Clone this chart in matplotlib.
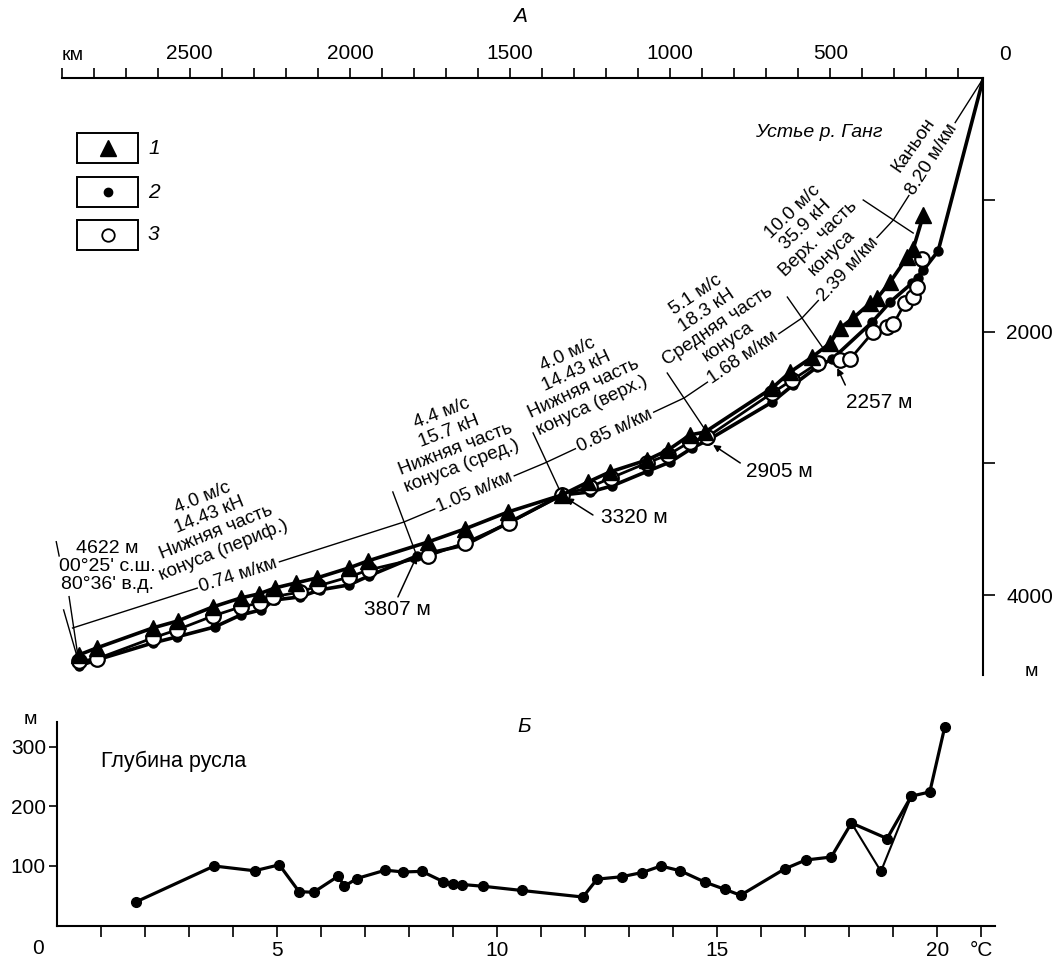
import numpy as np
import matplotlib
matplotlib.use('Agg')
import matplotlib.pyplot as plt
from matplotlib.lines import Line2D
from matplotlib.patches import Rectangle

plt.rcParams['font.family'] = ['Liberation Sans', 'DejaVu Sans']

W, H = 1061, 960

# ---- A: long profile, distance from mouth (km) and depth (m) ----
tri_km = [2847, 2791, 2616, 2538, 2428, 2341, 2284, 2234, 2169, 2103,
          2003, 1944, 1756, 1641, 1506, 1338, 1256, 1188, 1072, 1006,
          938, 891, 681, 625, 556, 500, 469, 428, 375, 353,
          313, 259, 241, 209]
tri_m = [4455, 4402, 4250, 4197, 4090, 4022, 3991, 3946, 3908, 3870,
         3794, 3741, 3597, 3498, 3369, 3240, 3141, 3065, 2974, 2898,
         2784, 2762, 2427, 2306, 2192, 2086, 1972, 1896, 1782, 1744,
         1623, 1433, 1372, 1114]

dot_km = [2847, 2791, 2616, 2541, 2422, 2341, 2278, 2234, 2156, 2094,
          2003, 1941, 1791, 1641, 1500, 1338, 1250, 1181, 1069, 1000,
          931, 881, 681, 616, 541, 494, 369, 313, 244, 225,
          209, 163, 22]
dot_m = [4538, 4493, 4364, 4318, 4242, 4151, 4113, 4037, 4014, 3961,
         3923, 3855, 3703, 3620, 3445, 3240, 3217, 3171, 3058, 2990,
         2883, 2822, 2534, 2405, 2268, 2208, 1927, 1775, 1630, 1593,
         1532, 1387, 76]

ring_km = [2847, 2791, 2616, 2541, 2428, 2341, 2281, 2241, 2156, 2100,
           2003, 1941, 1756, 1641, 1503, 1338, 1250, 1184, 1072, 1006,
           938, 884, 681, 619, 538, 469, 438, 366, 322, 303,
           266, 241, 228, 213]
ring_m = [4501, 4485, 4326, 4265, 4159, 4090, 4060, 4014, 3977, 3931,
          3863, 3809, 3703, 3604, 3453, 3240, 3179, 3110, 2996, 2935,
          2837, 2799, 2465, 2367, 2238, 2215, 2208, 2002, 1964, 1942,
          1782, 1737, 1661, 1448]

# slope line drawn above the profile
grad_km = [2866, 1831, 1391, 956, 588, 303, 22]
grad_m = [4250, 3445, 2997, 2503, 1896, 1152, 76]
grad_labels = ['0.74 м/км', '1.05 м/км', '0.85 м/км', '1.68 м/км', '2.39 м/км', '8.20 м/км']
grad_pos = [0.5, 0.5, 0.5, 0.5, 0.5, 0.43]

seg_labels = ['4.0 м/с\n14.43 кН\nНижняя часть\nконуса (периф.)',
              '4.4 м/с\n15.7 кН\nНижняя часть\nконуса (сред.)',
              '4.0 м/с\n14.43 кН\nНижняя часть\nконуса (верх.)',
              '5.1 м/с\n18.3 кН\nСредняя часть\nконуса',
              '10.0 м/с\n35.9 кН\nВерх. часть\nконуса',
              'Каньон']
seg_km = [2428, 1681, 1281, 869, 556, 241]
seg_m = [3460, 2822, 2367, 1896, 1243, 582]
seg_rot = [22, 21, 25, 34, 44, 55]

# segment boundaries (km1, m1, km2, m2)
bounds = [(2917, 3595, 2908, 3703), (2894, 4113, 2849, 4493),
          (1866, 3217, 1791, 3703), (1428, 2769, 1338, 3240),
          (1009, 2314, 884, 2769), (634, 1737, 525, 2116),
          (397, 1000, 241, 1251)]

depth_labels = ['3807 м', '3320 м', '2905 м', '2257 м']
depth_txt = [(1850, 4113), (1112, 3410), (660, 3065), (347, 2534)]
depth_tail = [(1850, 4014), (1241, 3392), (781, 2997), (453, 2405)]
depth_head = [(1791, 3703), (1325, 3263), (866, 2860), (478, 2276)]

km_ticks = [500, 1000, 1500, 2000, 2500]
m_ticks = [1000, 2000, 3000, 4000]

# ---- Б: channel depth ----
b_x = [1.8, 3.57, 4.49, 5.05, 5.5, 5.83, 6.39, 6.53, 6.81, 7.46,
       7.87, 8.29, 8.77, 8.99, 9.21, 9.69, 10.56, 11.95, 12.27, 12.83,
       13.29, 13.72, 14.16, 14.72, 15.17, 15.53, 16.53, 17.01, 17.59, 18.05,
       18.86, 19.41, 19.83, 20.17]
b_y = [40, 100, 92, 102, 57, 56, 83, 66, 79, 93,
       90, 91, 74, 70, 69, 66, 59, 48, 78, 82,
       89, 100, 92, 73, 61, 51, 95, 110, 115, 172,
       146, 217, 224, 333]
b2_x = [18.05, 18.72, 19.41]
b2_y = [172, 91, 217]


def fx(px):
    return px / W


def fy(py):
    return 1 - py / H


fig = plt.figure(figsize=(W / 100, H / 100), dpi=100)

ax = fig.add_axes([fx(61.7), fy(675), (983.3 - 61.7) / W, (675 - 78.3) / H])
ax.set_xlim(2900, 22)
ax.set_ylim(4607, 76)
ax.spines['left'].set_visible(False)
ax.spines['bottom'].set_visible(False)
ax.spines['top'].set_linewidth(1.5)
ax.spines['right'].set_linewidth(1.5)
ax.xaxis.set_ticks_position('top')
ax.yaxis.set_ticks_position('right')
ax.set_xticks(km_ticks, [str(k) for k in km_ticks])
ax.set_xticks(np.arange(100, 2901, 100), minor=True)
ax.tick_params(axis='x', which='both', direction='out', length=7, width=1.2,
               labelsize=15, pad=4)
ax.set_yticks(m_ticks, ['' if m % 2000 else str(m) for m in m_ticks])
ax.tick_params(axis='y', direction='out', length=8.5, width=1.2, labelsize=15, pad=8)

fig.text(fx(73), fy(55), 'км', ha='center', va='center', fontsize=14)
fig.text(fx(1005), fy(55), '0', ha='center', va='center', fontsize=15)
fig.text(fx(1031), fy(671), 'м', ha='center', va='center', fontsize=14)
fig.text(fx(520), fy(16), 'А', ha='center', va='center', fontsize=15, style='italic')

# profiles
ax.plot(dot_km, dot_m, '-', color='k', lw=2.6, marker='o', ms=6.5,
        markevery=list(range(len(dot_km) - 1)), zorder=3)
ax.plot(ring_km, ring_m, '-', color='k', lw=2.0, marker='o', ms=10.5,
        mfc='white', mec='k', mew=1.6, zorder=4)
ax.plot(tri_km, tri_m, '-', color='k', lw=2.6, marker='^', ms=11, zorder=5)

# slope line with labels
ax.plot(grad_km, grad_m, '-', color='k', lw=1.0, zorder=2)
for i, lab in enumerate(grad_labels):
    p0 = ax.transData.transform((grad_km[i], grad_m[i]))
    p1 = ax.transData.transform((grad_km[i + 1], grad_m[i + 1]))
    ang = np.degrees(np.arctan2(p1[1] - p0[1], p1[0] - p0[0]))
    t = grad_pos[i]
    xk = grad_km[i] + t * (grad_km[i + 1] - grad_km[i])
    ym = grad_m[i] + t * (grad_m[i + 1] - grad_m[i])
    ax.text(xk, ym, lab, rotation=ang, rotation_mode='anchor', ha='center',
            va='center', fontsize=13.5, zorder=6,
            bbox=dict(fc='white', ec='none', pad=1.5))

for lab, xk, ym, r in zip(seg_labels, seg_km, seg_m, seg_rot):
    ax.text(xk, ym, lab, rotation=r, rotation_mode='anchor', ha='center',
            va='center', multialignment='center', fontsize=13.5, linespacing=1.15)

for k1, m1, k2, m2 in bounds:
    ax.plot([k1, k2], [m1, m2], '-', color='k', lw=1.0, clip_on=False, zorder=2)

# leader to the westernmost point
ax.plot([2877, 2849], [4012, 4468], '-', color='k', lw=1.0, zorder=2)
ax.text(2757, 3784, "4622 м\n00°25' с.ш.\n80°36' в.д.", ha='center', va='center',
        fontsize=14, linespacing=1.1)

for lab, tp, tl, hd in zip(depth_labels, depth_txt, depth_tail, depth_head):
    ax.annotate('', xy=hd, xytext=tl,
                arrowprops=dict(arrowstyle='-|>', lw=1.1, color='k',
                                mutation_scale=10, shrinkA=0, shrinkB=0))
    ax.text(tp[0], tp[1], lab, ha='center', va='center', fontsize=15)

ax.text(537, 491, 'Устье р. Ганг', ha='center', va='center', fontsize=14,
        style='italic')

# legend boxes
leg_y = [148, 192, 235]
leg_mk = [dict(marker='^', ms=11, mfc='k', mec='k'),
          dict(marker='o', ms=6, mfc='k', mec='k'),
          dict(marker='o', ms=9, mfc='white', mec='k', mew=1.3)]
for i, (yy, mk) in enumerate(zip(leg_y, leg_mk)):
    fig.add_artist(Rectangle((fx(76.7), fy(yy + 15.3)), 61.6 / W, 30.6 / H,
                             transform=fig.transFigure, fill=False, lw=1.4, ec='k'))
    fig.add_artist(Line2D([fx(107.5)], [fy(yy)], transform=fig.transFigure,
                          ls='none', **mk))
    fig.text(fx(148), fy(yy), str(i + 1), ha='left', va='center', fontsize=15,
             style='italic')

# ---- bottom panel ----
bx = fig.add_axes([fx(57), fy(925.7), (994.5 - 57) / W, (925.7 - 721.7) / H])
bx.set_xlim(0, 21.3)
bx.set_ylim(0, 341.7)
bx.spines['top'].set_visible(False)
bx.spines['right'].set_visible(False)
bx.spines['left'].set_linewidth(1.5)
bx.spines['bottom'].set_linewidth(1.5)
xt = list(range(1, 22))
xl = [str(v) if v % 5 == 0 else '' for v in xt]
xl[-1] = '°C'
bx.set_xticks(xt, xl)
bx.tick_params(axis='x', direction='out', length=8, width=1.2, labelsize=15, pad=3)
bx.set_yticks([100, 200, 300])
bx.tick_params(axis='y', direction='out', length=6, width=1.2, labelsize=15, pad=2)

bx.plot(b_x, b_y, '-', color='k', lw=2.3, marker='o', ms=7)
bx.plot(b2_x, b2_y, '-', color='k', lw=1.5, marker='o', ms=7)

fig.text(fx(38), fy(948), '0', ha='center', va='center', fontsize=15)
fig.text(fx(30), fy(719), 'м', ha='center', va='center', fontsize=14)
fig.text(fx(524), fy(727), 'Б', ha='center', va='center', fontsize=15, style='italic')
bx.text(1.0, 275, 'Глубина русла', ha='left', va='center', fontsize=15.5)

fig.savefig('out.png', dpi=100)
